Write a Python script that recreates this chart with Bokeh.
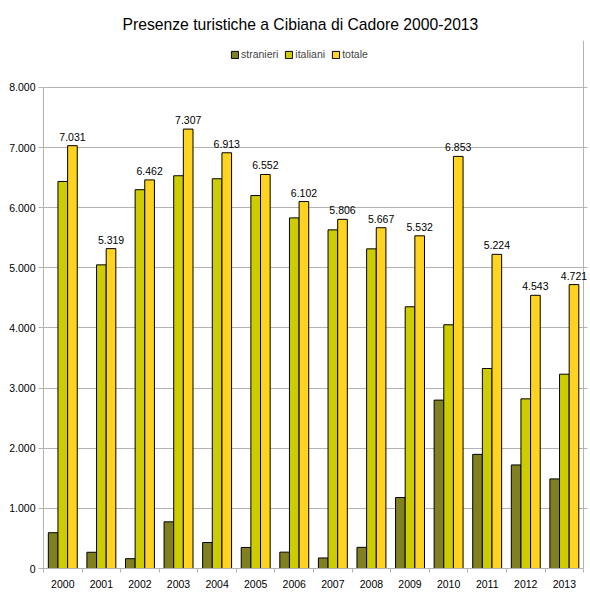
from bokeh.plotting import figure
from bokeh.models import ColumnDataSource, Range1d, FixedTicker, Legend, LegendItem
from bokeh.transform import dodge
from bokeh.core.properties import value
from bokeh.embed import file_html
from bokeh.resources import INLINE

years = ["2000", "2001", "2002", "2003", "2004", "2005", "2006",
         "2007", "2008", "2009", "2010", "2011", "2012", "2013"]
stranieri = [595, 270, 163, 776, 432, 350, 272, 175, 352, 1180, 2800, 1898, 1722, 1490]
totale = [7031, 5319, 6462, 7307, 6913, 6552, 6102, 5806, 5667, 5532, 6853, 5224, 4543, 4721]
italiani = [t - s for t, s in zip(totale, stranieri)]
y_ticks = [0, 1000, 2000, 3000, 4000, 5000, 6000, 7000, 8000]

FONT = "Liberation Sans"
FS = "10.5px"
C_STR = "#808020"
C_ITA = "#CCCC00"
C_TOT = "#FFD320"
GRID = "#b3b3b3"
N = len(years)

def fmt(v):
    return f"{v:,}".replace(",", ".")

xc = [i + 0.5 for i in range(N)]
src = ColumnDataSource(dict(
    xc=xc, years=years, stranieri=stranieri, italiani=italiani, totale=totale,
    tot_label=[fmt(v) for v in totale],
))

# frame extends above the 8000 line (legend room) and slightly right of the last category
p = figure(width=588, height=591, output_backend="svg", toolbar_location=None,
           x_range=Range1d(0, N + 0.1), y_range=Range1d(0, 8780),
           min_border_left=43, min_border_right=1, min_border_bottom=23,
           min_border_top=40)

p.title.text = "Presenze turistiche a Cibiana di Cadore 2000-2013"
p.title.align = "left"
p.title.offset = 79
p.title.text_font = FONT
p.title.text_font_size = "15.7px"
p.title.text_font_style = "normal"
p.title.text_color = "black"
p.title.standoff = 15

r1 = p.vbar(x=dodge("xc", -0.25, range=p.x_range), top="stranieri", width=0.25, source=src,
            fill_color=C_STR, line_color="black", line_width=1)
r2 = p.vbar(x=dodge("xc", 0.0, range=p.x_range), top="italiani", width=0.25, source=src,
            fill_color=C_ITA, line_color="black", line_width=1)
r3 = p.vbar(x=dodge("xc", 0.25, range=p.x_range), top="totale", width=0.25, source=src,
            fill_color=C_TOT, line_color="black", line_width=1)

p.text(x=dodge("xc", 0.25, range=p.x_range), y="totale", text="tot_label", source=src,
       text_align="center", text_baseline="bottom", y_offset=-5,
       text_font=value(FONT), text_font_size=FS, text_color="black")

legend = Legend(items=[LegendItem(label="stranieri", renderers=[r1]),
                       LegendItem(label="italiani", renderers=[r2]),
                       LegendItem(label="totale", renderers=[r3])],
                orientation="horizontal", location=(187, 508),
                label_text_font=FONT, label_text_font_size=FS,
                glyph_width=9, glyph_height=9, spacing=6, label_standoff=2,
                padding=4, margin=0, border_line_color=None,
                background_fill_alpha=0)
p.add_layout(legend, "center")

# grids: horizontal at y ticks, vertical one as right border of the chart area
p.ygrid.grid_line_color = GRID
p.ygrid.ticker = FixedTicker(ticks=y_ticks)
p.xgrid.ticker = FixedTicker(ticks=[N])
p.xgrid.bounds = (0, y_ticks[-1])
p.xgrid.grid_line_color = GRID

# axes
p.yaxis.ticker = FixedTicker(ticks=y_ticks)
p.yaxis.bounds = (0, y_ticks[-1])
p.yaxis.major_label_overrides = {v: fmt(v) for v in y_ticks}
p.xaxis.ticker = FixedTicker(ticks=xc, minor_ticks=list(range(N + 1)))
p.xaxis.bounds = (0, N)
p.xaxis.major_label_overrides = {x: y for x, y in zip(xc, years)}

for ax in (p.xaxis[0], p.yaxis[0]):
    ax.axis_line_color = GRID
    ax.major_tick_line_color = GRID
    ax.minor_tick_line_color = GRID
    ax.major_label_text_font = FONT
    ax.major_label_text_font_size = FS
    ax.major_label_text_color = "black"
    ax.major_tick_in = 0
    ax.minor_tick_in = 0

p.yaxis.major_tick_out = 5
p.yaxis.minor_tick_out = 0
p.yaxis.major_label_standoff = 3
p.xaxis.major_tick_out = 0
p.xaxis.minor_tick_out = 4
p.xaxis.major_label_standoff = 7

p.outline_line_color = None
p.background_fill_color = "white"
p.border_fill_color = "white"

open("out.html", "w").write(file_html(p, INLINE))
